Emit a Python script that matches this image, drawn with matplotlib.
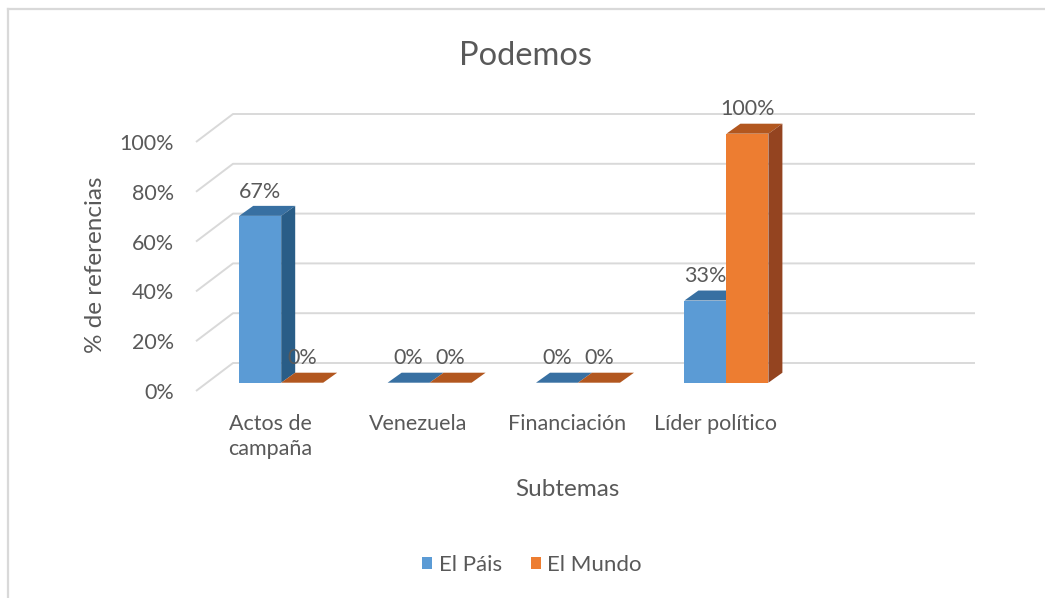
#-*- coding: utf-8 -*-

import matplotlib.pyplot as plt
from matplotlib.lines import Line2D
from matplotlib.patches import Polygon


categories = ['Actos de\ncampaña', 'Venezuela', 'Financiación', 'Líder político']
n_slots = 5  # Excel leaves an empty fifth slot on the axis
series_names = ['El Páis', 'El Mundo']
el_pais = [0.67, 0.0, 0.0, 0.33]
el_mundo = [0.0, 0.0, 0.0, 1.0]
y_ticks = [0.0, 0.2, 0.4, 0.6, 0.8, 1.0]
y_tick_labels = ['0%', '20%', '40%', '60%', '80%', '100%']

front_colors = ['#5b9bd5', '#ed7d31']
top_colors = ['#3870a2', '#b2571f']
side_colors = ['#295d87', '#944420']
text_color = '#595959'
grid_color = '#d9d9d9'

plt.rcParams['font.family'] = ['Lato', 'DejaVu Sans']

W, H = 1045, 598
fig = plt.figure(figsize=(W / 100.0, H / 100.0), dpi=100)

# axes = plane of the bar front faces (pixel measures from the reference)
ax = fig.add_axes([207.0 / W, (H - 382.7) / H, 742.0 / W, 249.0 / H])
ax.set_xlim(0, n_slots)
ax.set_ylim(0, 1)
ax.axis('off')

px_x = n_slots / 742.0
px_y = 1.0 / 249.0

# oblique depth offsets (in data units)
bar_dx, bar_dy = 14 * px_x, 10 * px_y
front_dx, front_dy = -11 * px_x, -8.3 * px_y
back_dx, back_dy = 26 * px_x, 19.7 * px_y

bar_w = 42 * px_x

# gridlines: short diagonal on the floor side + line along back wall
for v in y_ticks:
    ax.plot([front_dx, back_dx, n_slots + back_dx],
        [v + front_dy, v + back_dy, v + back_dy],
        c=grid_color, lw=1.4, zorder=1, clip_on=False,
        solid_capstyle='butt')

for v, lab in zip(y_ticks, y_tick_labels):
    ax.annotate(lab, (front_dx, v + front_dy), xytext=(-16, 0),
        textcoords='offset points', ha='right', va='center_baseline',
        fontsize=15.5, color=text_color, annotation_clip=False)

all_series = [el_pais, el_mundo]
for i, cat in enumerate(categories):
    for s, vals in enumerate(all_series):
        v = vals[i]
        left = i + 0.5 + (s - 1) * bar_w
        ax.bar(left, v, width=bar_w, align='edge', color=front_colors[s],
            lw=0, zorder=3 + 2 * i + s, clip_on=False,
            label=series_names[s] if i == 0 else None)
        top = Polygon([(left, v), (left + bar_w, v),
            (left + bar_w + bar_dx, v + bar_dy), (left + bar_dx, v + bar_dy)],
            closed=True, fc=top_colors[s], ec='none',
            zorder=3 + 2 * i + s, clip_on=False)
        ax.add_patch(top)
        if v > 0:
            side = Polygon([(left + bar_w, 0), (left + bar_w, v),
                (left + bar_w + bar_dx, v + bar_dy),
                (left + bar_w + bar_dx, bar_dy)],
                closed=True, fc=side_colors[s], ec='none',
                zorder=3 + 2 * i + s, clip_on=False)
            ax.add_patch(side)
        ax.annotate('{:.0f}%'.format(v * 100), (left + bar_w / 2.0, v + bar_dy),
            xytext=(0, 6), textcoords='offset points', ha='center',
            va='baseline', fontsize=15.5, color=text_color, zorder=20,
            annotation_clip=False)

    ax.annotate(cat, (i + 0.5 + front_dx, front_dy), xytext=(0, -16.5),
        textcoords='offset points', ha='center', va='top', fontsize=15.5,
        color=text_color, linespacing=1.3, annotation_clip=False)

fig.text(526.0 / W, 1 - 65.0 / H, 'Podemos', ha='center', va='baseline',
    fontsize=23.5, color=text_color)
fig.text(567.0 / W, 1 - 496.0 / H, 'Subtemas', ha='center', va='baseline',
    fontsize=17.5, color=text_color)
fig.text(95.0 / W, 1 - 265.0 / H, '% de referencias', ha='center',
    va='center', rotation=90, fontsize=17.5, color=text_color)

legend = fig.legend(loc='center', bbox_to_anchor=(532.0 / W, 1 - 565.0 / H),
    ncol=2, frameon=False, fontsize=16, handlelength=0.45, handleheight=0.45,
    handletextpad=0.3, columnspacing=1.3, labelcolor=text_color)

# chart border (only top and left edges fall inside the image)
fig.add_artist(Line2D([7.5 / W, 1.0], [1 - 9.0 / H, 1 - 9.0 / H],
    transform=fig.transFigure, c=grid_color, lw=1.6))
fig.add_artist(Line2D([7.5 / W, 7.5 / W], [0.0, 1 - 9.0 / H],
    transform=fig.transFigure, c=grid_color, lw=1.6))

plt.savefig('out.png', dpi=100, facecolor='w')
